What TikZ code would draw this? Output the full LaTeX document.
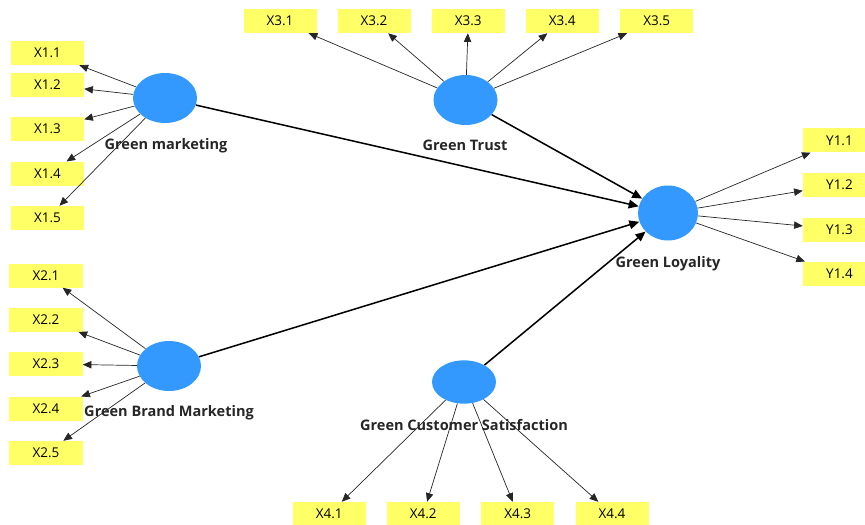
\documentclass[tikz,border=0pt]{standalone}
\usepackage{fontspec}
\setmainfont{Open Sans}
\usetikzlibrary{shapes.geometric,arrows.meta}
\definecolor{lvblue}{RGB}{51,153,255}
\definecolor{lvyellow}{RGB}{255,255,102}
\tikzset{
  indicator/.style={fill=lvyellow,minimum width=2.19cm,minimum height=0.72cm,inner sep=0pt,font=\fontsize{11.5}{13}\selectfont},
  construct/.style={ellipse,fill=lvblue,minimum width=1.92cm,minimum height=1.5cm,inner sep=0pt},
  construct label/.style={font=\fontsize{12.4}{14}\selectfont\bfseries,text=black!85,inner sep=0pt},
  loading/.style={-{Triangle[length=2.6mm,width=2.2mm]},line width=0.6pt,black!85},
  inner path/.style={-{Triangle[length=3mm,width=2.6mm]},line width=1.3pt}
}
\begin{document}
\begin{tikzpicture}[x=0.03cm,y=-0.03cm]
  \useasboundingbox (0,0) rectangle (865,524);
  % constructs
  \node[construct] (gm) at (165,98) {};
  \node[construct] (gbm) at (169,366) {};
  \node[construct] (gt) at (465.5,100) {};
  \node[construct,minimum width=1.8cm,minimum height=1.65cm] (gl) at (668,213) {};
  \node[construct,minimum height=1.3cm] (gcs) at (464,382) {};
  % indicators
  \foreach \i/\y in {1/53,2/84.7,3/129,4/173.7,5/218}
    \node[indicator] (x1\i) at (47.5,\y) {X1.\i};
  \foreach \i/\y in {1/275.5,2/319.7,3/364,4/408.7,5/453}
    \node[indicator] (x2\i) at (46,\y) {X2.\i};
  \foreach \i/\x in {1/280,2/374,3/468.3,4/562.3,5/656.7}
    \node[indicator] (x3\i) at (\x,21) {X3.\i};
  \foreach \i/\x in {1/329.3,2/423.3,3/517.7,4/612}
    \node[indicator] (x4\i) at (\x,514) {X4.\i};
  \foreach \i/\y in {1/140.3,2/184.7,3/229.5,4/273.7}
    \node[indicator] (y1\i) at (839.5,\y) {Y1.\i};
  % loadings
  \foreach \i in {1,...,5} {
    \draw[loading] (gm) -- (x1\i);
    \draw[loading] (gbm) -- (x2\i);
    \draw[loading] (gt) -- (x3\i);
  }
  \foreach \i in {1,...,4} {
    \draw[loading] (gcs) -- (x4\i);
    \draw[loading] (gl) -- (y1\i);
  }
  % inner model
  \draw[inner path] (gm) -- (gl);
  \draw[inner path] (gt) -- (gl);
  \draw[inner path] (gbm) -- (gl);
  \draw[inner path] (gcs) -- (gl);
  % labels
  \node[construct label] (gm label) at (166,146) {Green marketing};
  \node[construct label] (gbm label) at (169,412.7) {Green Brand Marketing};
  \node[construct label] (gt label) at (465,145.7) {Green Trust};
  \node[construct label] (gl label) at (668,264) {Green Loyality};
  \node[construct label] (gcs label) at (464,425) {Green Customer Satisfaction};
\end{tikzpicture}
\end{document}
